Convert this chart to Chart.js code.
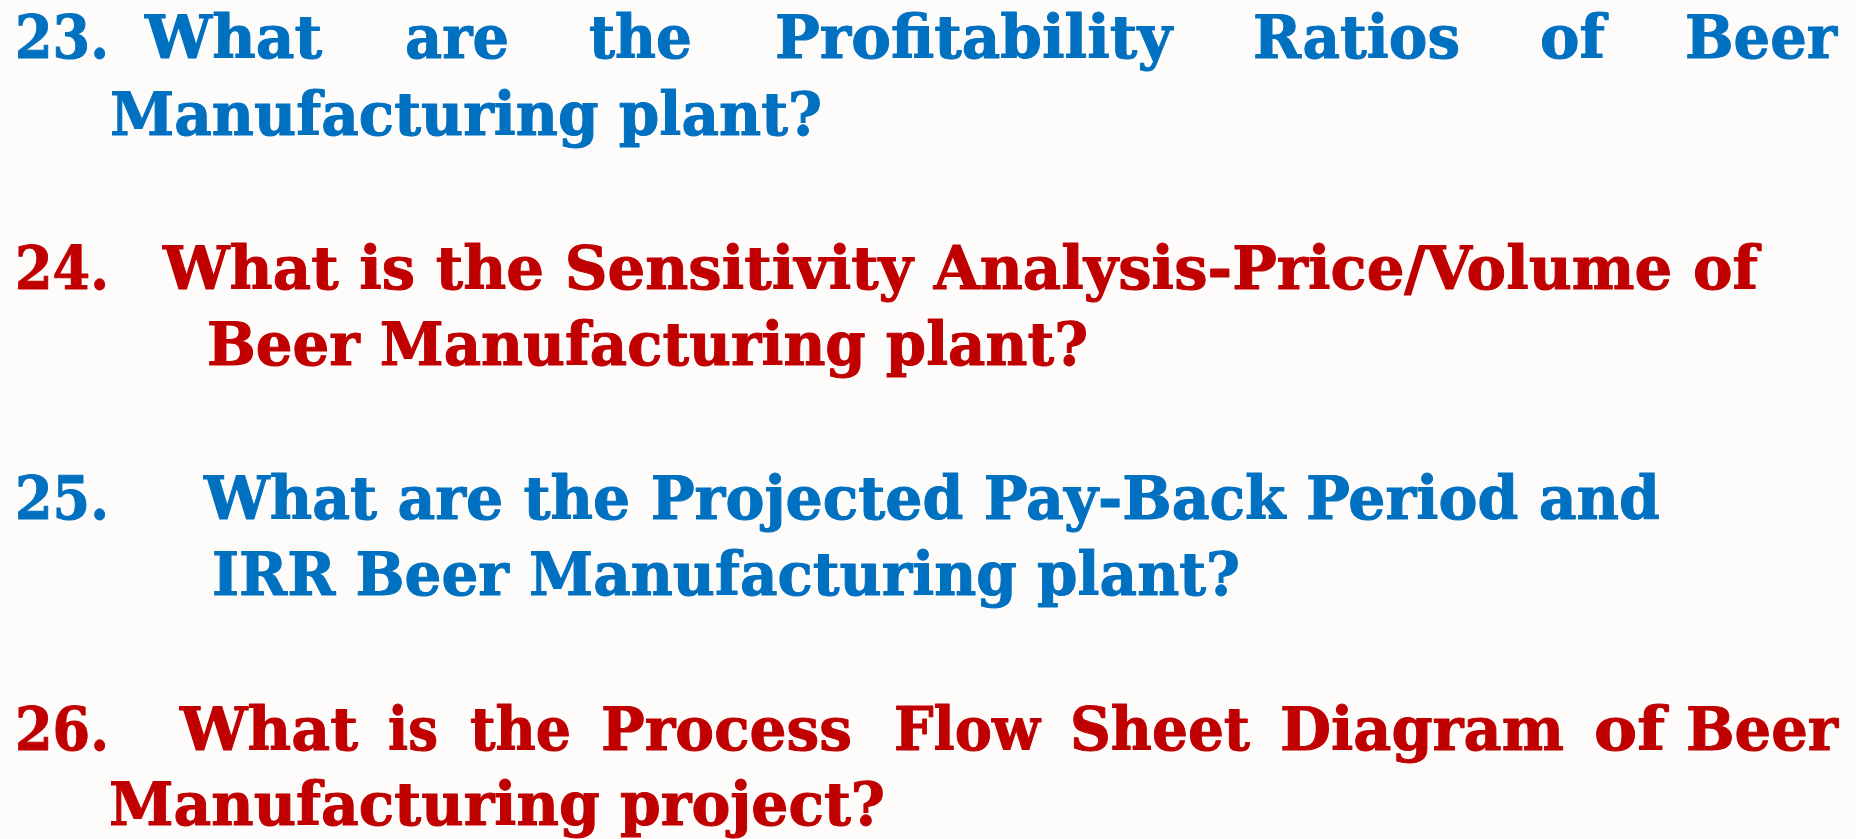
<!DOCTYPE html>
<html>
<head>
<meta charset="utf-8">
<script src="https://cdn.jsdelivr.net/npm/chart.js@4/dist/chart.umd.min.js"></script>
<style>
  html, body { margin: 0; padding: 0; width: 1856px; height: 839px; overflow: hidden; background: #FDFCFB; }
  #wrap { position: relative; width: 1856px; height: 839px; }
  #bg { position: absolute; left: 0; top: 0; }
  #txt { position: absolute; left: 0; top: 0; }
  #txt text { font-family: "DejaVu Serif", "Liberation Serif", serif; font-weight: bold; font-size: 59px; stroke-width: 1; stroke-linejoin: round; }
</style>
</head>
<body>
<div id="wrap">
  <canvas id="bg" width="1856" height="839"></canvas>
  <svg id="txt" width="1856" height="839" viewBox="0 0 1856 839" xmlns="http://www.w3.org/2000/svg"></svg>
</div>
<script>
// ---- content ----
const questionNumbers = ["23.", "24.", "25.", "26."];
const questionColors = ["#0070C0", "#C00000", "#0070C0", "#C00000"];
const q23Line1 = ["What", "are", "the", "Profitability", "Ratios", "of", "Beer"];
const q23Line2 = ["Manufacturing plant?"];
const q24Line1 = ["What is the Sensitivity Analysis-Price/Volume of"];
const q24Line2 = ["Beer Manufacturing plant?"];
const q25Line1 = ["What are the Projected Pay-Back Period and"];
const q25Line2 = ["IRR Beer Manufacturing plant?"];
const q26Line1 = ["What", "is", "the", "Process", "Flow", "Sheet", "Diagram", "of", "Beer"];
const q26Line2 = ["Manufacturing project?"];

// ---- layout (horizontal extents of each text piece, baselines) ----
const numberSpan = [15, 109];
const baselines = [[58, 135], [289, 365], [519, 595], [750, 825]];
const spansQ23L1 = [[145,322],[405,509],[589,692],[775,1172],[1253,1460],[1540,1605],[1685,1837]];
const spansQ23L2 = [[110,822]];
const spansQ24L1 = [[163,1758]];
const spansQ24L2 = [[207,1088]];
const spansQ25L1 = [[204,1660]];
const spansQ25L2 = [[212,1240]];
const spansQ26L1 = [[180,358],[388,438],[470,571],[601,852],[894,1040],[1070,1250],[1280,1564],[1594,1665],[1686,1838]];
const spansQ26L2 = [[109,885]];

const questions = [
  [[q23Line1, spansQ23L1], [q23Line2, spansQ23L2]],
  [[q24Line1, spansQ24L1], [q24Line2, spansQ24L2]],
  [[q25Line1, spansQ25L1], [q25Line2, spansQ25L2]],
  [[q26Line1, spansQ26L1], [q26Line2, spansQ26L2]]
];

// background drawn through Chart.js
const bgPlugin = {
  id: 'slideBg',
  beforeDraw(chart) {
    const c = chart.ctx;
    c.save();
    c.fillStyle = '#FDFCFB';
    c.fillRect(0, 0, chart.width, chart.height);
    c.restore();
  }
};
new Chart(document.getElementById('bg'), {
  type: 'bar',
  data: { labels: [], datasets: [] },
  options: {
    responsive: false, animation: false,
    plugins: { legend: { display: false }, tooltip: { enabled: false } },
    scales: { x: { display: false }, y: { display: false } }
  },
  plugins: [bgPlugin]
});

// text
const NS = 'http://www.w3.org/2000/svg';
const svg = document.getElementById('txt');
function addText(str, x0, x1, y, color) {
  const t = document.createElementNS(NS, 'text');
  t.setAttribute('x', x0);
  t.setAttribute('y', y);
  t.setAttribute('fill', color);
  t.setAttribute('stroke', color);
  t.setAttribute('textLength', x1 - x0);
  t.setAttribute('lengthAdjust', 'spacingAndGlyphs');
  t.textContent = str;
  svg.appendChild(t);
}
questions.forEach((q, qi) => {
  const color = questionColors[qi];
  addText(questionNumbers[qi], numberSpan[0], numberSpan[1], baselines[qi][0], color);
  q.forEach((line, li) => {
    const [words, spans] = line;
    words.forEach((w, wi) => addText(w, spans[wi][0], spans[wi][1], baselines[qi][li], color));
  });
});
</script>
</body>
</html>
